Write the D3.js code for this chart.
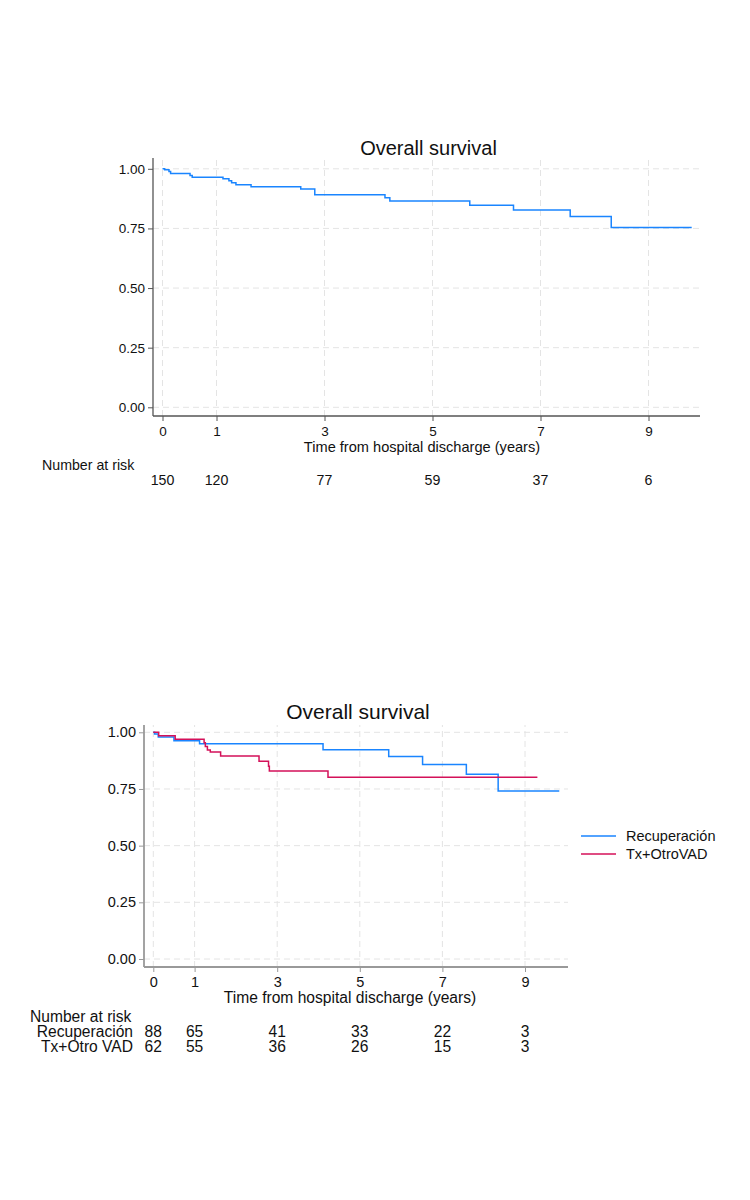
<!DOCTYPE html>
<html>
<head>
<meta charset="utf-8">
<script src="https://cdn.jsdelivr.net/npm/d3@7"></script>
<style>
  html, body { margin: 0; padding: 0; background: #fff; }
  svg { display: block; }
  text { font-family: "Liberation Sans", Arial, Helvetica, sans-serif; fill: #111; }
</style>
</head>
<body>
<svg id="chart" width="750" height="1200"></svg>
<script>
// ---------- DATA ----------
const chartTitle = "Overall survival";
const xAxisTitle = "Time from hospital discharge (years)";
const xTicks = [0, 1, 3, 5, 7, 9];
const yTicks = [0, 0.25, 0.5, 0.75, 1.0];

// Top chart: overall KM curve
const allTimes = [0, 0.04, 0.12, 0.15, 0.51, 0.55, 1.12, 1.23, 1.28, 1.36, 1.64, 2.56, 2.82, 4.12, 4.21, 5.69, 6.50, 7.55, 8.31, 9.80];
const allSurv  = [1.000, 0.996, 0.989, 0.980, 0.972, 0.965, 0.958, 0.950, 0.941, 0.933, 0.925, 0.915, 0.891, 0.879, 0.865, 0.847, 0.827, 0.800, 0.754, 0.754];
const allAtRisk = [150, 120, 77, 59, 37, 6];

// Bottom chart: by group
const groupNames = ["Recuperación", "Tx+OtroVAD"];
const groupRiskLabels = ["Recuperación", "Tx+Otro VAD"];
const recTimes = [0, 0.03, 0.12, 0.50, 1.12, 4.11, 5.70, 6.52, 7.58, 8.35, 9.83];
const recSurv  = [1.000, 0.993, 0.979, 0.963, 0.949, 0.923, 0.893, 0.858, 0.815, 0.741, 0.741];
const txTimes  = [0, 0.13, 0.53, 1.23, 1.26, 1.31, 1.38, 1.63, 2.56, 2.79, 2.81, 4.23, 9.30];
const txSurv   = [1.000, 0.985, 0.969, 0.954, 0.937, 0.922, 0.913, 0.896, 0.872, 0.850, 0.829, 0.802, 0.802];
const recAtRisk = [88, 65, 41, 33, 22, 3];
const txAtRisk  = [62, 55, 36, 26, 15, 3];

const colors = ["#1a85ff", "#d41159"];

// ---------- DRAW ----------
const svg = d3.select("#chart");
const fmt = d3.format(".2f");

function drawPanel(cfg) {
  const g = svg.append("g");
  const x = d3.scaleLinear().domain([0, 9]).range([cfg.x0, cfg.x9]);
  const y = d3.scaleLinear().domain([0, 1]).range([cfg.y0, cfg.y1]);
  const xLeft = x.invert(cfg.axisLeft), xRight = x.invert(cfg.axisRight);
  const yBottom = y.invert(cfg.axisBottom), yTop = y.invert(cfg.axisTop);

  // grid
  g.selectAll(".hg").data(yTicks).join("line")
    .attr("x1", x(xLeft)).attr("x2", x(xRight))
    .attr("y1", d => y(d)).attr("y2", d => y(d))
    .attr("stroke", "#e4e4e4").attr("stroke-width", 1).attr("stroke-dasharray", "6,4");
  g.selectAll(".vg").data(xTicks).join("line")
    .attr("x1", d => x(d)).attr("x2", d => x(d))
    .attr("y1", y(yBottom)).attr("y2", y(yTop))
    .attr("stroke", "#e4e4e4").attr("stroke-width", 1).attr("stroke-dasharray", "6,4");

  // y axis
  const yAxis = d3.axisLeft(y).tickValues(yTicks).tickFormat(fmt).tickSize(5).tickPadding(3);
  const ya = g.append("g").attr("transform", `translate(${x(xLeft)},0)`).call(yAxis);
  ya.select(".domain").remove();
  ya.selectAll(".tick line").attr("stroke", cfg.axisColor);
  ya.selectAll(".tick text").attr("font-size", cfg.tickFont).attr("font-family", "Liberation Sans, Arial, sans-serif").attr("fill", "#111");
  g.append("line").attr("x1", x(xLeft)).attr("x2", x(xLeft)).attr("y1", y(yBottom)).attr("y2", y(yTop))
    .attr("stroke", cfg.axisColor).attr("stroke-width", cfg.axisWidth);

  // x axis
  const xAxis = d3.axisBottom(x).tickValues(xTicks).tickFormat(d3.format("d")).tickSize(5).tickPadding(5);
  const xa = g.append("g").attr("transform", `translate(0,${y(yBottom)})`).call(xAxis);
  xa.select(".domain").remove();
  xa.selectAll(".tick line").attr("stroke", cfg.axisColor);
  xa.selectAll(".tick text").attr("font-size", cfg.tickFont).attr("font-family", "Liberation Sans, Arial, sans-serif").attr("fill", "#111");
  g.append("line").attr("x1", x(xLeft)).attr("x2", x(xRight)).attr("y1", y(yBottom)).attr("y2", y(yBottom))
    .attr("stroke", cfg.axisColor).attr("stroke-width", cfg.axisWidth);

  // titles
  g.append("text").attr("x", (x(xLeft) + x(xRight)) / 2 + 2).attr("y", cfg.titleY)
    .attr("text-anchor", "middle").attr("font-size", cfg.titleFont).text(chartTitle);
  g.append("text").attr("x", cfg.xTitleX).attr("y", cfg.xTitleY)
    .attr("text-anchor", "middle").attr("font-size", cfg.labelFont).text(xAxisTitle);

  // curves
  const line = d3.line().curve(d3.curveStepAfter).x(d => x(d[0])).y(d => y(d[1]));
  cfg.series.forEach((s, i) => {
    const pts = s.times.map((t, k) => [t, s.surv[k]]);
    g.append("path").datum(pts).attr("d", line)
      .attr("fill", "none").attr("stroke", colors[i]).attr("stroke-width", 1.5);
  });

  // number at risk
  g.append("text").attr("x", cfg.narX).attr("y", cfg.narY).attr("font-size", cfg.riskFont).text("Number at risk");
  cfg.risk.forEach((r, i) => {
    const ry = cfg.narY + cfg.narStep * (i + 1);
    if (r.label) {
      g.append("text").attr("x", cfg.riskLabelX).attr("y", ry).attr("text-anchor", "end")
        .attr("font-size", cfg.riskFont).text(r.label);
    }
    g.selectAll(null).data(r.values).join("text")
      .attr("x", (d, k) => x(xTicks[k])).attr("y", ry)
      .attr("text-anchor", "middle").attr("font-size", cfg.riskFont).text(d => d);
  });
  return { x, y, g };
}

// top panel
drawPanel({
  x0: 162.5, x9: 648.5, y0: 407.3, y1: 168.8,
  axisLeft: 153, axisRight: 700, axisBottom: 416, axisTop: 158,
  axisColor: "#555", axisWidth: 1.3,
  tickFont: 13.5, labelFont: 14.6, riskFont: 14.2, titleFont: 20,
  titleY: 155, xTitleX: 422, xTitleY: 452,
  narX: 42, narY: 470, narStep: 15, riskLabelX: 0,
  series: [{ times: allTimes, surv: allSurv }],
  risk: [{ label: null, values: allAtRisk }]
});

// bottom panel
drawPanel({
  x0: 153.3, x9: 525, y0: 959, y1: 732.3,
  axisLeft: 144, axisRight: 568, axisBottom: 967, axisTop: 725,
  axisColor: "#999", axisWidth: 1.8,
  tickFont: 14.5, labelFont: 15.6, riskFont: 15.6, titleFont: 21,
  titleY: 719, xTitleX: 350, xTitleY: 1003,
  narX: 30, narY: 1022, narStep: 15, riskLabelX: 133,
  series: [{ times: recTimes, surv: recSurv }, { times: txTimes, surv: txSurv }],
  risk: [{ label: groupRiskLabels[0], values: recAtRisk }, { label: groupRiskLabels[1], values: txAtRisk }]
});

// legend
const leg = svg.append("g").attr("transform", "translate(581,836)");
groupNames.forEach((name, i) => {
  const row = leg.append("g").attr("transform", `translate(0,${i * 18})`);
  row.append("line").attr("x1", 0).attr("x2", 35).attr("y1", 0).attr("y2", 0)
    .attr("stroke", colors[i]).attr("stroke-width", 1.5);
  row.append("text").attr("x", 45).attr("y", 5).attr("font-size", 14.5).text(name);
});
</script>
</body>
</html>
